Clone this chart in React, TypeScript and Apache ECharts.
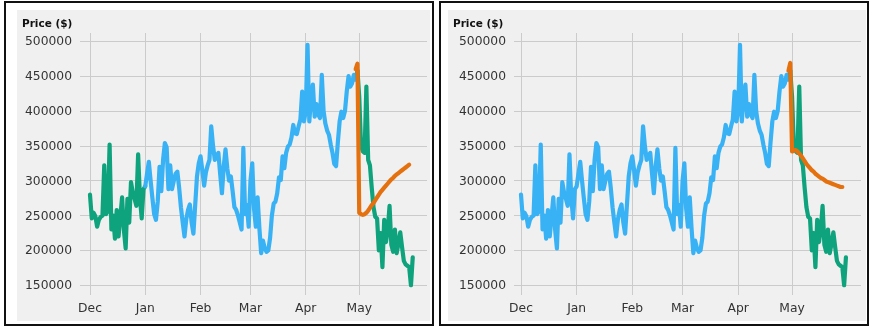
import React, { useEffect, useRef } from 'react';
import * as echarts from 'echarts';

// Daily prices in thousands of dollars, Dec 1 2021 .. May 31 2022
const priceDec = [280, 246, 254, 249, 234, 244, 248, 250, 322, 252, 256, 352, 230, 250, 217, 258, 220, 248, 276, 230, 203, 274, 240, 298, 283, 274, 264, 338, 276, 246, 288];
const priceJan = [292, 310, 327, 300, 275, 252, 244, 270, 320, 285, 330, 354, 348, 288, 322, 288, 300, 310, 313, 290, 262, 240, 220, 245, 258, 266, 240, 224, 265, 306, 325];
const priceFeb = [335, 315, 293, 312, 322, 330, 378, 350, 330, 336, 340, 310, 282, 320, 345, 318, 300, 306, 285, 262, 258, 250, 240, 230, 347, 252, 265, 234];
const priceMar = [300, 325, 260, 234, 276, 232, 196, 214, 203, 198, 200, 218, 250, 267, 270, 282, 305, 301, 335, 318, 340, 349, 352, 362, 380, 368, 367, 378, 388, 428, 385];
const priceApr = [400, 495, 385, 420, 438, 392, 410, 395, 390, 452, 400, 382, 372, 366, 352, 340, 324, 321, 355, 385, 399, 390, 400, 428, 450, 435, 440, 452, 445, 458];
const priceMay = [420, 350, 342, 340, 435, 330, 322, 290, 262, 248, 246, 200, 225, 176, 244, 212, 230, 264, 208, 198, 230, 196, 210, 226, 205, 185, 180, 178, 176, 150, 190];

// Forecasts (thousands), Apr 29 .. May 29
const forecastLeft = [460, 468, 254, 252, 251, 252, 254, 257, 261, 265, 268, 272, 276, 280, 284, 287, 290, 293, 296, 299, 302, 304, 307, 309, 311, 313, 315, 317, 319, 321, 323];
const forecastRight = [458, 469, 342, 343, 344, 342, 339, 336, 332, 328, 324, 321, 318, 315, 313, 310, 308, 306, 304, 303, 301, 299, 298, 297, 296, 295, 294, 293, 292, 291, 291];

const monthTickDates = ['2021-12-01', '2022-01-01', '2022-02-01', '2022-03-01', '2022-04-01', '2022-05-01'];
const monthTickLabels = ['Dec', 'Jan', 'Feb', 'Mar', 'Apr', 'May'];
const yTicks = [150000, 200000, 250000, 300000, 350000, 400000, 450000, 500000];

const START = Date.UTC(2021, 11, 1);
const DAY = 86400000;
const FORECAST_START = 149; // day index of Apr 29

const BLUE = '#38b2f4';
const GREEN = '#0ea37c';
const ORANGE = '#e5700e';

const price = [...priceDec, ...priceJan, ...priceFeb, ...priceMar, ...priceApr, ...priceMay];

// x is the day number counted from Dec 1 2021
const seg = (from: number, to: number) =>
  price.slice(from, to + 1).map((v, i) => [from + i, v * 1000]);
const fc = (arr: number[]) => arr.map((v, i) => [FORECAST_START + i, v * 1000]);

const tickDays = monthTickDates.map((d) => Math.round((Date.parse(d + 'T00:00:00Z') - START) / DAY));

const FONT = 'DejaVu Sans';

export default function App() {
  const ref = useRef<HTMLDivElement>(null);
  useEffect(() => {
    if (!ref.current) return;
    const chart = echarts.init(ref.current, undefined, { renderer: 'svg' });

    const panels = [
      { left: 80, xMin: -5.6, xMax: 189 },
      { left: 514, xMin: -3.9, xMax: 189.4 },
    ];

    const xAxis = panels.map((p, i) => ({
      type: 'value',
      gridIndex: i,
      min: p.xMin,
      max: p.xMax,
      axisLine: { show: false },
      axisTick: { show: false, customValues: tickDays },
      axisLabel: {
        customValues: tickDays,
        formatter: (v: number) => {
          const k = tickDays.indexOf(Math.round(v));
          return k >= 0 ? monthTickLabels[k] : '';
        },
        color: '#333',
        fontSize: 12.3,
        fontFamily: FONT,
        margin: 7,
      },
      splitLine: { show: true, lineStyle: { color: '#cbcbcb', width: 1 } },
    }));

    const yAxis = panels.map((p, i) => ({
      type: 'value',
      gridIndex: i,
      min: 136000,
      max: 512000,
      axisLine: { show: false },
      axisTick: { show: false, customValues: yTicks },
      axisLabel: {
        customValues: yTicks,
        formatter: (v: number) => String(v),
        color: '#333',
        fontSize: 12.3,
        fontFamily: FONT,
        margin: 8,
      },
      splitLine: { show: true, lineStyle: { color: '#cbcbcb', width: 1 } },
    }));

    const line = (data: any[], color: string, idx: number, z = 3) => ({
      type: 'line',
      xAxisIndex: idx,
      yAxisIndex: idx,
      data,
      showSymbol: false,
      symbol: 'none',
      z,
      lineStyle: { color, width: 4.2, join: 'round', cap: 'round' },
      silent: true,
    });

    chart.setOption({
      animation: false,
      graphic: [
        { type: 'rect', z: -10, silent: true, shape: { x: 5, y: 2, width: 428, height: 323 }, style: { fill: '#ffffff', stroke: '#111', lineWidth: 2 } },
        { type: 'rect', z: -9, silent: true, shape: { x: 17, y: 10, width: 413, height: 311 }, style: { fill: '#f0f0f0' } },
        { type: 'rect', z: -10, silent: true, shape: { x: 440, y: 2, width: 428, height: 323 }, style: { fill: '#ffffff', stroke: '#111', lineWidth: 2 } },
        { type: 'rect', z: -9, silent: true, shape: { x: 448, y: 10, width: 418, height: 311 }, style: { fill: '#f0f0f0' } },
      ],
      title: [
        { text: 'Price ($)', left: 17, top: 12, textStyle: { fontFamily: FONT, fontWeight: 'bold', fontSize: 10.5, color: '#111' } },
        { text: 'Price ($)', left: 448, top: 12, textStyle: { fontFamily: FONT, fontWeight: 'bold', fontSize: 10.5, color: '#111' } },
      ],
      grid: panels.map((p) => ({ left: p.left, top: 33, width: 347, height: 262 })),
      xAxis,
      yAxis,
      series: [
        line(seg(0, 31), GREEN, 0),
        line(seg(31, 150), BLUE, 0),
        line(seg(150, 181), GREEN, 0),
        line(fc(forecastLeft), ORANGE, 0, 4),
        line(seg(0, 150), BLUE, 1),
        line(seg(150, 181), GREEN, 1),
        line(fc(forecastRight), ORANGE, 1, 4),
      ],
    });
    return () => chart.dispose();
  }, []);
  return <div ref={ref} style={{ position: 'fixed', left: 0, top: 0, width: 872, height: 328 }} />;
}
